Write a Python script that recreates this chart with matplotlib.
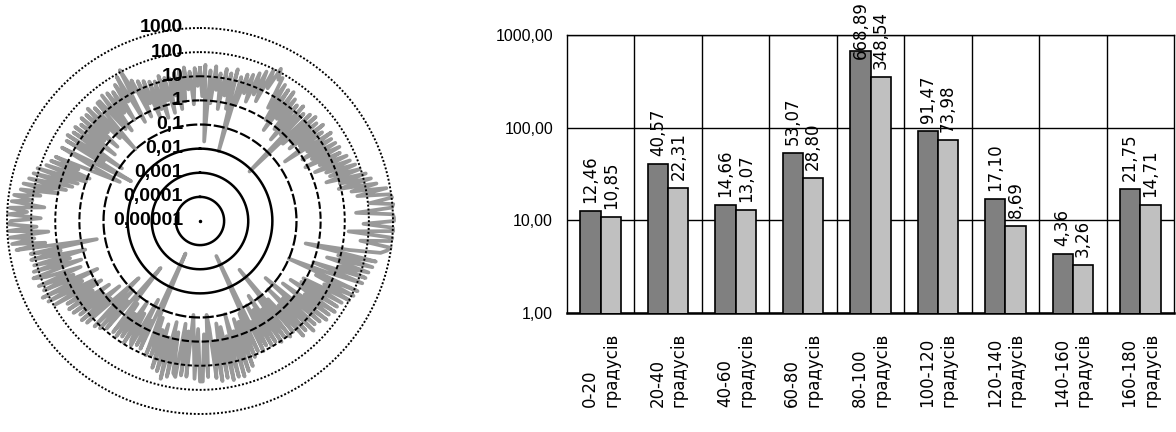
import numpy as np
import matplotlib
matplotlib.use("Agg")
import matplotlib.pyplot as plt
from matplotlib.ticker import NullLocator, FixedLocator

# Radar series, one value per degree, clockwise from the top (0..179)
polar_right = [
    22, 1.5, 30, 0.02, 18, 0.8, 28, 3, 15, 0.5,
    25, 2, 18, 0.6, 30, 0.01, 16, 1.2, 24, 4,
    28, 2, 40, 5, 60, 3, 90, 15, 140, 50,
    70, 3, 45, 1, 35, 0.4, 40, 2, 25, 0.8,
    18, 0.3, 25, 0.8, 15, 0.008, 22, 0.5, 28, 1,
    20, 0.6, 30, 1.5, 18, 0.2, 35, 2, 26, 0.9,
    30, 2, 35, 0.8, 28, 3, 45, 1.5, 50, 4,
    70, 5, 90, 3, 140, 10, 200, 8, 300, 25,
    700, 40, 900, 1050, 120, 1100, 950, 30, 1000, 1100,
    1100, 60, 1000, 1050, 15, 1000, 900, 50, 950, 700,
    400, 20, 0.3, 300, 8, 250, 3, 200, 12, 180,
    1, 160, 5, 0.1, 140, 2, 120, 6, 100, 0.8,
    60, 0.8, 50, 0.3, 55, 2, 40, 0.2, 45, 1,
    30, 0.04, 25, 0.5, 35, 0.1, 20, 0.6, 25, 0.2,
    10, 0.004, 12, 0.1, 9, 0.3, 11, 0.05, 8, 0.2,
    9, 0.1, 7, 0.5, 10, 0.0004, 8, 0.15, 12, 0.3,
    25, 0.2, 35, 0.6, 50, 0.1, 45, 0.8, 55, 0.3,
    40, 0.2, 50, 1, 35, 0.3, 0.08, 30, 0.5, 45,
]

# Radar series continued (180..359)
polar_left = [
    45, 0.3, 35, 0.8, 0.08, 30, 0.4, 28, 0.2, 35,
    25, 0.5, 40, 0.2, 55, 1, 30, 0.3, 25, 0.6,
    8, 0.2, 10, 0.1, 0.0003, 7, 0.4, 6, 0.05, 8,
    5, 0.3, 9, 0.1, 6, 0.5, 8, 0.2, 7, 0.05,
    0.0035, 8, 0.3, 12, 0.1, 15, 0.5, 0.03, 20, 0.8,
    25, 0.2, 20, 1, 30, 0.4, 35, 2, 30, 0.6,
    90, 1, 130, 3, 180, 0.5, 120, 5, 160, 2,
    60, 200, 1.5, 160, 4, 130, 0.8, 150, 8, 140,
    0.22, 500, 30, 700, 80, 800, 20, 900, 60, 850,
    700, 40, 900, 150, 800, 30, 700, 100, 600, 50,
    350, 10, 300, 5, 200, 3, 150, 2, 120, 1,
    60, 0.8, 45, 3, 35, 0.5, 0.05, 1.5, 30, 0.4,
    0.02, 28, 0.5, 35, 0.08, 25, 1, 30, 0.3, 22,
    1.5, 32, 0.4, 28, 2, 38, 0.6, 25, 0.1, 30,
    30, 0.8, 40, 0.5, 35, 3, 28, 1, 45, 6,
    80, 0.5, 120, 10, 30, 0.6, 22, 2, 18, 0.4,
    14, 0.8, 12, 0.3, 18, 1.5, 13, 0.4, 11, 2,
    17, 0.5, 20, 1, 25, 3, 16, 0.7, 22, 4,
]

ring_values = [1e-5, 1e-4, 1e-3, 1e-2, 1e-1, 1, 10, 100, 1000]
ring_labels = ["0,00001", "0,0001", "0,001", "0,01", "0,1", "1", "10", "100", "1000"]

# Sector averages
sectors = ["0-20\nградусів", "20-40\nградусів", "40-60\nградусів",
           "60-80\nградусів", "80-100\nградусів", "100-120\nградусів",
           "120-140\nградусів", "140-160\nградусів", "160-180\nградусів"]
series_a = [12.46, 40.57, 14.66, 53.07, 668.89, 91.47, 17.10, 4.36, 21.75]
series_b = [10.85, 22.31, 13.07, 28.80, 348.54, 73.98, 8.69, 3.26, 14.71]
y_ticks = [1, 10, 100, 1000]
y_tick_labels = ["1,00", "10,00", "100,00", "1000,00"]

W, H = 1176, 432
fig = plt.figure(figsize=(W / 100, H / 100), dpi=100)

# ---------------- radar (log radial scale) ----------------
axp = fig.add_axes([7 / W, 18 / H, 386 / W, 386 / H], projection="polar")
axp.set_theta_zero_location("N")
axp.set_theta_direction(-1)
axp.set_rscale("log")
axp.set_rlim(ring_values[0], ring_values[-1])
axp.grid(False)
axp.set_xticks([])
axp.yaxis.set_major_locator(NullLocator())
axp.yaxis.set_minor_locator(NullLocator())
axp.spines["polar"].set_visible(False)

vals = np.array(polar_right + polar_left, dtype=float)
theta = np.deg2rad(np.arange(len(vals)) * 360.0 / len(vals))
theta_c = np.append(theta, 2 * np.pi)
vals_c = np.append(vals, vals[0])
axp.plot(theta_c, vals_c, color="#999999", lw=2.7, zorder=2, clip_on=False)

ring_styles = {
    1e-4: ("-", 1.8), 1e-3: ("-", 1.8), 1e-2: ("-", 1.8),
    1e-1: ((0, (5, 1.2)), 1.6), 1: ((0, (3.5, 1.3)), 1.5),
    10: ((0, (2.2, 1.3)), 1.4), 100: ((0, (1.0, 1.0)), 1.4),
    1000: ((0, (1.0, 1.0)), 1.4),
}
circle = np.linspace(0, 2 * np.pi, 721)
for rv in ring_values[1:]:
    ls, lw = ring_styles[rv]
    axp.plot(circle, np.full_like(circle, rv), color="black", ls=ls, lw=lw,
             zorder=3, clip_on=False)
axp.plot([0], [ring_values[0]], marker="o", ms=1.5, color="black", zorder=3)

for rv, lab in zip(ring_values, ring_labels):
    axp.annotate(lab, xy=(0, rv), xytext=(-17, 0), textcoords="offset pixels",
                 ha="right", va="center", fontsize=14, fontweight="bold",
                 family="Liberation Sans", color="black", zorder=5,
                 annotation_clip=False)

# ---------------- bar chart ----------------
axb = fig.add_axes([567 / W, 119 / H, 607 / W, 278 / H])
x = np.arange(len(sectors))
bw = 0.3
bars_a = axb.bar(x - bw / 2, series_a, bw, color="#808080", edgecolor="black",
                 lw=1.2, zorder=3)
bars_b = axb.bar(x + bw / 2, series_b, bw, color="#c0c0c0", edgecolor="black",
                 lw=1.2, zorder=3)
axb.set_yscale("log")
axb.set_ylim(1, 1000)
axb.set_xlim(-0.5, len(sectors) - 0.5)

axb.yaxis.set_major_locator(FixedLocator(y_ticks))
axb.set_yticklabels(y_tick_labels, family="Liberation Sans", fontsize=11.5)
axb.yaxis.set_minor_locator(NullLocator())
axb.tick_params(axis="y", length=0, pad=10)

axb.set_xticks(x)
axb.set_xticklabels(sectors, rotation=90, ha="center", va="top",
                    multialignment="left", family="DejaVu Sans", fontsize=12,
                    linespacing=1.25)
axb.set_xticks(np.arange(0.5, len(sectors) - 0.5, 1.0), minor=True)
axb.tick_params(axis="x", which="both", length=0, pad=14)

axb.grid(True, which="major", axis="y", color="black", lw=1.0, zorder=1)
axb.grid(True, which="minor", axis="x", color="black", lw=1.0, zorder=1)
for s in ("top", "right", "left"):
    axb.spines[s].set_linewidth(1.0)
axb.spines["bottom"].set_linewidth(1.8)

labels = []
for bars, series in ((bars_a, series_a), (bars_b, series_b)):
    for b, v in zip(bars, series):
        t = axb.annotate(f"{v:.2f}".replace(".", ","),
                         xy=(b.get_x() + b.get_width() / 2, v),
                         xytext=(0, 8), textcoords="offset pixels",
                         rotation=90, ha="center", va="bottom",
                         family="DejaVu Sans", fontsize=12, zorder=5,
                         annotation_clip=False)
        labels.append(t)

# keep value labels inside the figure
fig.canvas.draw()
renderer = fig.canvas.get_renderer()
for t in labels:
    bb = t.get_window_extent(renderer)
    if bb.y1 > H - 1:
        dx, dy = t.xyann
        t.xyann = (dx, dy - (bb.y1 - (H - 1)))

fig.savefig("out.png", dpi=100, facecolor="white")
